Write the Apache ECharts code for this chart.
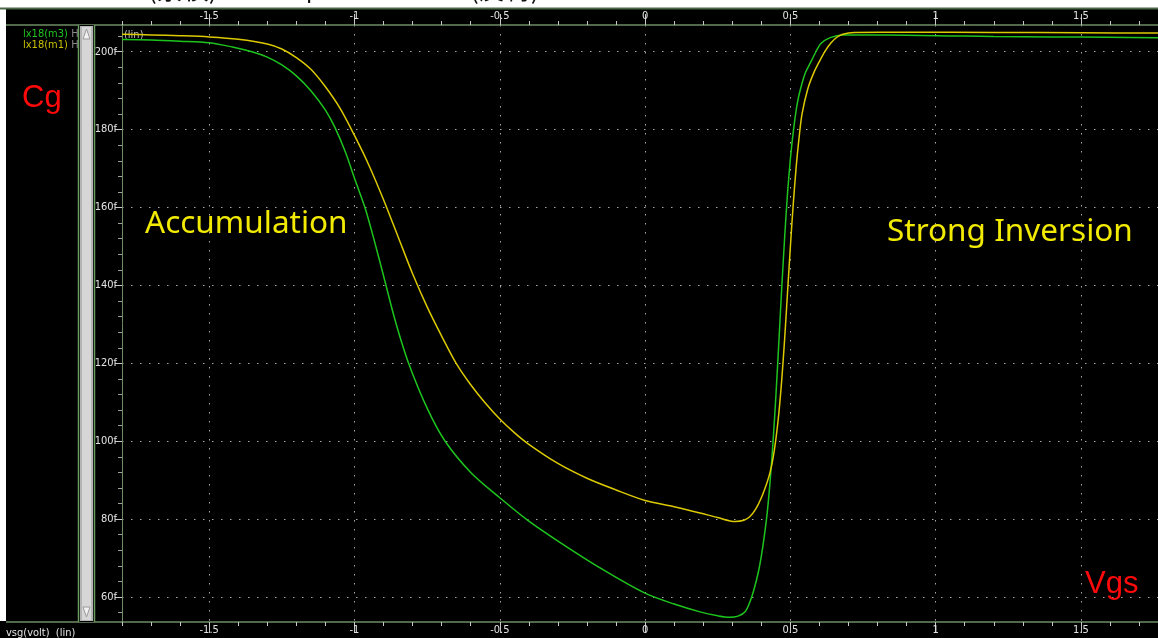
<!DOCTYPE html>
<html><head><meta charset="utf-8">
<script src="https://cdn.jsdelivr.net/npm/echarts@6/dist/echarts.min.js"></script>
<style>html,body{margin:0;padding:0;background:#fff}#c{width:1158px;height:638px}</style>
</head><body><div id="c"></div>
<script>
// ---- data ----
const seriesNames = ['lx18(m3)', 'lx18(m1)'];
const xMajorTicks = [-1.5, -1, -0.5, 0, 0.5, 1, 1.5];
const yMajorTicks = [60, 80, 100, 120, 140, 160, 180, 200];
const xMinorTicks = []; for (let i = -18; i <= 17; i++) xMinorTicks.push(i / 10);
const yMinorTicks = []; for (let v = 56; v <= 204; v += 4) yMinorTicks.push(v);

const m3X = [-1.80,-1.70,-1.60,-1.50,-1.42,-1.35,-1.30,-1.25,-1.20,-1.15,-1.10,-1.067,-1.03,-1.00,-0.964,-0.93,-0.895,-0.86,-0.816,-0.75,-0.688,-0.60,-0.50,-0.40,-0.292,-0.155,0.00,0.10,0.189,0.25,0.29,0.32,0.345,0.361,0.375,0.39,0.40,0.41,0.42,0.43,0.44,0.45,0.46,0.47,0.48,0.49,0.50,0.51,0.52,0.53,0.55,0.57,0.59,0.605,0.637,0.68,0.75,0.90,1.00,1.10,1.20,1.40,1.59,1.765];
const m3Y = [203.1,203.0,202.7,202.3,201.2,199.9,198.6,196.6,193.8,190.0,185.0,180.5,174.0,167.5,160.0,151.0,141.0,131.0,120.5,108.5,100.0,92.0,85.5,79.5,74.0,67.5,61.0,58.2,56.2,55.2,54.8,55.1,56.3,58.8,62.0,66.5,70.5,75.5,81.5,89.5,99.5,111.5,125.0,139.0,152.0,163.5,172.5,179.5,185.0,189.0,194.3,197.3,200.3,202.1,203.6,204.3,204.3,204.2,204.1,204.0,203.9,203.8,203.7,203.6];

const m1X = [-1.80,-1.70,-1.60,-1.50,-1.40,-1.30,-1.25,-1.20,-1.15,-1.10,-1.05,-1.00,-0.95,-0.90,-0.85,-0.80,-0.75,-0.70,-0.65,-0.60,-0.55,-0.50,-0.45,-0.40,-0.30,-0.20,-0.10,0.00,0.10,0.189,0.25,0.31,0.34,0.36,0.38,0.40,0.42,0.43,0.44,0.45,0.46,0.47,0.48,0.49,0.50,0.51,0.52,0.53,0.54,0.56,0.58,0.60,0.62,0.64,0.66,0.68,0.72,0.90,1.20,1.50,1.765];
const m1Y = [204.5,204.3,204.1,203.8,203.2,202.0,200.7,198.5,195.5,191.0,185.5,178.5,170.8,162.0,152.5,143.0,134.5,127.0,120.0,114.5,109.8,105.7,102.2,99.2,94.3,90.5,87.5,84.8,83.2,81.6,80.4,79.4,79.7,80.6,82.5,85.5,89.5,92.0,95.5,100.5,107.0,115.5,126.0,138.0,150.0,161.0,170.5,178.0,184.0,190.5,194.5,197.5,200.2,202.3,203.7,204.5,204.95,205.0,204.95,204.85,204.8];

const XMIN = -1.8, XMAX = 1.765, YMIN = 53.6, YMAX = 206.85;

// ---- styles ----
const AXIS = '#6e8c66';
const TICK = '#c8c8c8';
const LBL = '#e2e2e2';
const GRIDC = '#a8a8a8';
const GREEN = '#1ec41e';
const YELLOW = '#dcca00';
const FONT = '"DejaVu Sans Condensed", "DejaVu Sans"';
const labelFont = {color: LBL, fontSize: 11, fontFamily: FONT};

function xAxisPair(pos) {
  return [
    {type: 'value', position: pos, min: XMIN, max: XMAX,
     axisLine: {show: true, onZero: false, lineStyle: {color: AXIS, width: 1.5}},
     axisTick: {show: true, customValues: xMinorTicks, length: 4, lineStyle: {color: TICK}},
     axisLabel: {show: false}, splitLine: {show: false}},
    {type: 'value', position: pos, min: XMIN, max: XMAX,
     axisLine: {show: false, onZero: false},
     axisTick: {show: true, customValues: xMajorTicks, length: 11, lineStyle: {color: TICK}},
     axisLabel: Object.assign({show: true, customValues: xMajorTicks, margin: 3,
        formatter: v => String(v)}, labelFont),
     splitLine: {show: pos === 'bottom', lineStyle: {color: GRIDC, width: 1, type: [1.5, 7.5]}}}
  ];
}

const lineSmooth = {showSymbol: false, smooth: 0.3};

const option = {
  backgroundColor: '#000',
  animation: false,
  grid: {left: 122, top: 25, right: 0, bottom: 16, containLabel: false},
  xAxis: [...xAxisPair('bottom'), ...xAxisPair('top')],
  yAxis: [
    {type: 'value', position: 'left', min: YMIN, max: YMAX,
     axisLine: {show: true, onZero: false, lineStyle: {color: AXIS, width: 1}},
     axisTick: {show: true, customValues: yMinorTicks, length: 4, lineStyle: {color: '#9aa894'}},
     axisLabel: {show: false}, splitLine: {show: false}},
    {type: 'value', position: 'left', min: YMIN, max: YMAX,
     axisLine: {show: false, onZero: false},
     axisTick: {show: true, customValues: yMajorTicks, length: 7, lineStyle: {color: TICK}},
     axisLabel: Object.assign({show: true, customValues: yMajorTicks, margin: 5,
        formatter: v => v + 'f'}, labelFont),
     splitLine: {show: true, lineStyle: {color: GRIDC, width: 1, type: [1.5, 7.5]}}}
  ],
  series: [
    Object.assign({name: seriesNames[0], type: 'line', xAxisIndex: 0, yAxisIndex: 0,
     data: m3X.map((x, i) => [x, m3Y[i]]), lineStyle: {color: GREEN, width: 1.5}, z: 3}, lineSmooth),
    Object.assign({name: seriesNames[1], type: 'line', xAxisIndex: 0, yAxisIndex: 0,
     data: m1X.map((x, i) => [x, m1Y[i]]), lineStyle: {color: YELLOW, width: 1.5}, z: 4}, lineSmooth)
  ],
  graphic: [
    // white margins of the screenshot
    {type: 'rect', shape: {x: 0, y: 0, width: 1158, height: 8}, style: {fill: '#fff'}, z: 100},
    {type: 'rect', shape: {x: 0, y: 0, width: 6, height: 621}, style: {fill: '#fff'}, z: 100},
    {type: 'line', shape: {x1: 0, y1: 8.5, x2: 1158, y2: 8.5}, style: {stroke: '#4a6845', lineWidth: 2}, z: 101},
    // cut-off header text
    {type: 'text', x: 148, y: 2, z: 101, style: {text: '(累積)', font: '26px "Noto Sans CJK TC"', fill: '#111', verticalAlign: 'bottom'}},
    {type: 'text', x: 275, y: 2, z: 101, style: {text: 'Depletion', font: '24px "Noto Sans"', fill: '#111', verticalAlign: 'bottom'}},
    {type: 'text', x: 470, y: 2, z: 101, style: {text: '(反轉)', font: '26px "Noto Sans CJK TC"', fill: '#111', verticalAlign: 'bottom'}},
    // axis lines extended into the left panel
    {type: 'line', shape: {x1: 6, y1: 25, x2: 122, y2: 25}, style: {stroke: AXIS, lineWidth: 1.5}},
    {type: 'line', shape: {x1: 6, y1: 622, x2: 122, y2: 622}, style: {stroke: AXIS, lineWidth: 1.5}},
    // legend texts
    {type: 'text', x: 23, y: 34, style: {text: '{g|' + seriesNames[0] + '} {h|H}', verticalAlign: 'middle',
      rich: {g: {fill: '#22c422', font: '11px ' + FONT}, h: {fill: '#8a8a8a', font: '11px ' + FONT}}}},
    {type: 'text', x: 23, y: 45, style: {text: '{g|' + seriesNames[1] + '} {h|H}', verticalAlign: 'middle',
      rich: {g: {fill: '#c8c000', font: '11px ' + FONT}, h: {fill: '#8a8a8a', font: '11px ' + FONT}}}},
    // scrollbar
    {type: 'rect', shape: {x: 78, y: 25, width: 17, height: 597}, style: {fill: '#000'}, z: 5},
    {type: 'rect', shape: {x: 80, y: 26, width: 13, height: 595}, style: {fill: '#b4b4b4'}, z: 6},
    {type: 'rect', shape: {x: 82, y: 27, width: 9, height: 593}, style: {fill: '#d6d6d6'}, z: 7},
    {type: 'line', shape: {x1: 78.5, y1: 25, x2: 78.5, y2: 622}, style: {stroke: '#6a9a62', lineWidth: 1.5}, z: 8},
    {type: 'line', shape: {x1: 94.5, y1: 25, x2: 94.5, y2: 622}, style: {stroke: '#6a9a62', lineWidth: 1.5}, z: 8},
    {type: 'polygon', shape: {points: [[83, 39], [86.5, 29], [90, 39]]}, style: {fill: '#f2f2f2', stroke: '#9a9a9a', lineWidth: 1}, z: 9},
    {type: 'polygon', shape: {points: [[83, 607], [86.5, 617], [90, 607]]}, style: {fill: '#f2f2f2', stroke: '#9a9a9a', lineWidth: 1}, z: 9},
    // small texts
    {type: 'text', x: 124, y: 35, style: {text: '(lin)', fill: '#bdbdbd', font: '11px ' + FONT, verticalAlign: 'middle'}},
    {type: 'text', x: 6, y: 633, style: {text: 'vsg(volt)  (lin)', fill: LBL, font: '11px ' + FONT, verticalAlign: 'middle'}},
    // annotations
    {type: 'text', x: 22, y: 98, z: 20, style: {text: 'Cg', fill: '#ff0a0a', font: '31px "Liberation Sans"', verticalAlign: 'middle'}},
    {type: 'text', x: 1085, y: 584, z: 20, style: {text: 'Vgs', fill: '#ff0a0a', font: '31px "Liberation Sans"', verticalAlign: 'middle'}},
    {type: 'text', x: 145, y: 224, z: 20, style: {text: 'Accumulation', fill: '#f2ea00', font: '31.5px "Noto Sans"', verticalAlign: 'middle'}},
    {type: 'text', x: 887, y: 232, z: 20, style: {text: 'Strong Inversion', fill: '#f2ea00', font: '31.5px "Noto Sans"', verticalAlign: 'middle'}}
  ]
};
const chart = echarts.init(document.getElementById('c'), null, {renderer: 'canvas'});
chart.setOption(option);
</script></body></html>
